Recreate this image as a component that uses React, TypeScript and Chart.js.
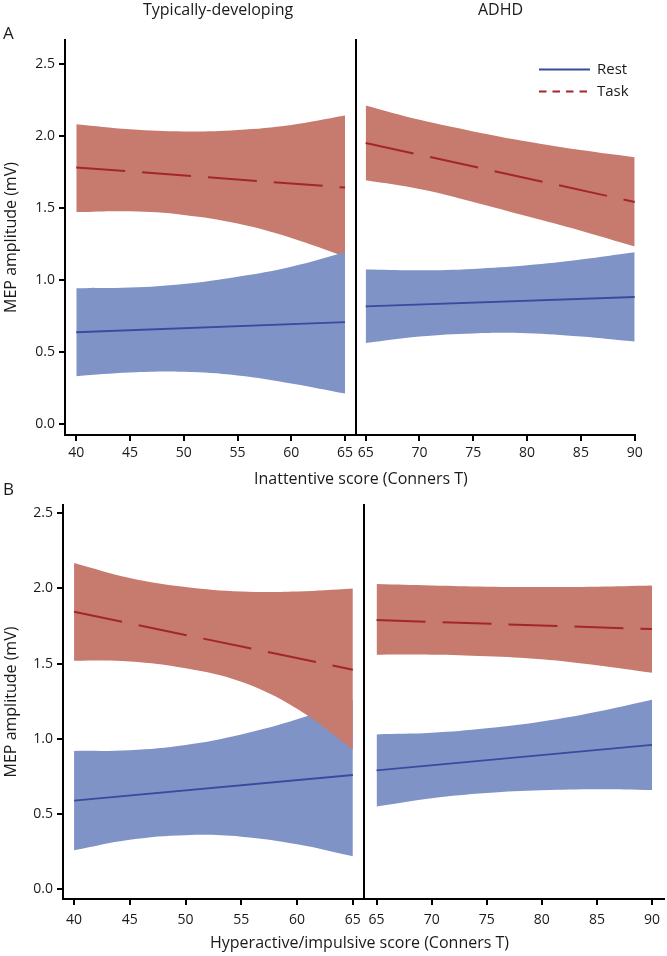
import React, { useEffect, useRef } from "react";
import { Chart, registerables } from "chart.js";
Chart.register(...registerables);

const FONT = "'Open Sans', 'DejaVu Sans', sans-serif";
const TEXT = "#1a1a1a";
const RED_BAND = "rgb(199,122,110)";
const BLUE_BAND = "rgb(127,147,199)";
const RED_LINE = "#a2262b";
const BLUE_LINE = "#3a4a9e";

// Tick values
const yTickValues = [0, 0.5, 1.0, 1.5, 2.0, 2.5];
const xTicksTD = [40, 45, 50, 55, 60, 65];
const xTicksADHD = [65, 70, 75, 80, 85, 90];

// Where the confidence bands were read (Conners T)
const bandX_TD = [40, 45, 50, 55, 60, 65];
const bandX_ADHD = [65, 70, 75, 80, 85, 90];
// Fit-line end points
const fitX_TD = [40, 65];
const fitX_ADHD = [65, 90];

// Panel A – Inattentive, typically-developing
const aTdRestFit = [0.635, 0.705];
const aTdRestUpper = [0.94, 0.945, 0.97, 1.02, 1.09, 1.19];
const aTdRestLower = [0.33, 0.355, 0.36, 0.335, 0.28, 0.21];
const aTdTaskFit = [1.78, 1.64];
const aTdTaskUpper = [2.08, 2.045, 2.03, 2.04, 2.075, 2.14];
const aTdTaskLower = [1.47, 1.475, 1.45, 1.39, 1.29, 1.16];
// Panel A – Inattentive, ADHD
const aAdRestFit = [0.815, 0.88];
const aAdRestUpper = [1.07, 1.065, 1.075, 1.1, 1.14, 1.19];
const aAdRestLower = [0.56, 0.605, 0.627, 0.628, 0.605, 0.57];
const aAdTaskFit = [1.95, 1.54];
const aAdTaskUpper = [2.21, 2.11, 2.03, 1.96, 1.9, 1.85];
const aAdTaskLower = [1.69, 1.63, 1.54, 1.44, 1.34, 1.23];
// Panel B – Hyperactive/impulsive, typically-developing
const bTdRestFit = [0.59, 0.76];
const bTdRestUpper = [0.92, 0.925, 0.96, 1.03, 1.13, 1.26];
const bTdRestLower = [0.26, 0.33, 0.36, 0.35, 0.3, 0.22];
const bTdTaskFit = [1.845, 1.46];
const bTdTaskUpper = [2.17, 2.07, 2.01, 1.98, 1.98, 2.0];
const bTdTaskLower = [1.52, 1.515, 1.47, 1.38, 1.2, 0.93];
// Panel B – Hyperactive/impulsive, ADHD
const bAdRestFit = [0.79, 0.96];
const bAdRestUpper = [1.03, 1.04, 1.07, 1.115, 1.18, 1.26];
const bAdRestLower = [0.55, 0.605, 0.64, 0.658, 0.665, 0.66];
const bAdTaskFit = [1.79, 1.73];
const bAdTaskUpper = [2.03, 2.02, 2.012, 2.01, 2.012, 2.02];
const bAdTaskLower = [1.56, 1.56, 1.55, 1.53, 1.49, 1.44];

const legendLabels = ["Rest", "Task"];
const yTitle = "MEP amplitude (mV)";

type Box = { left: number; top: number; width: number; height: number };
type Area = { l: number; t: number; r: number; b: number };
type Spec = {
  box: Box;
  area: Area;
  xMin: number;
  xMax: number;
  yMin: number;
  yMax: number;
  xTicks: number[];
  tickPad: number;
  showY: boolean;
  bandX: number[];
  fitX: number[];
  restFit: number[];
  restUpper: number[];
  restLower: number[];
  taskFit: number[];
  taskUpper: number[];
  taskLower: number[];
  restOnTop: boolean;
  legend?: boolean;
};

const pts = (xs: number[], ys: number[]) => xs.map((x, i) => ({ x, y: ys[i] }));

function band(xs: number[], upper: number[], lower: number[], color: string) {
  const common = {
    backgroundColor: color,
    borderColor: "rgba(0,0,0,0)",
    borderWidth: 0,
    pointRadius: 0,
    tension: 0.4,
  };
  return [
    { ...common, data: pts(xs, upper), fill: "+1" },
    { ...common, data: pts(xs, lower), fill: false },
  ];
}

function legendPlugin(box: Box) {
  return {
    id: "customLegend",
    afterDraw(chart: any) {
      const ctx = chart.ctx;
      ctx.save();
      const rows = [
        { y: 69.5, color: BLUE_LINE, dash: [] as number[] },
        { y: 91.5, color: RED_LINE, dash: [7.5, 6] },
      ];
      rows.forEach((r, i) => {
        ctx.beginPath();
        ctx.setLineDash(r.dash);
        ctx.strokeStyle = r.color;
        ctx.lineWidth = 2;
        ctx.moveTo(539 - box.left, r.y - box.top);
        ctx.lineTo(590 - box.left, r.y - box.top);
        ctx.stroke();
        ctx.setLineDash([]);
        ctx.fillStyle = TEXT;
        ctx.font = `15px ${FONT}`;
        ctx.textBaseline = "middle";
        ctx.textAlign = "left";
        ctx.fillText(legendLabels[i], 597 - box.left, r.y - box.top);
      });
      ctx.restore();
    },
  };
}

function makeConfig(s: Spec): any {
  const { box, area } = s;
  const padLeft = s.showY ? 0 : area.l - box.left;
  const restBand = band(s.bandX, s.restUpper, s.restLower, BLUE_BAND);
  const taskBand = band(s.bandX, s.taskUpper, s.taskLower, RED_BAND);
  const bands = s.restOnTop ? [...restBand, ...taskBand] : [...taskBand, ...restBand];
  const datasets = [
    {
      data: pts(s.fitX, s.taskFit),
      borderColor: RED_LINE,
      borderWidth: 2,
      borderDash: [49, 17],
      pointRadius: 0,
      fill: false,
    },
    {
      data: pts(s.fitX, s.restFit),
      borderColor: BLUE_LINE,
      borderWidth: 1.8,
      pointRadius: 0,
      fill: false,
    },
    ...bands,
  ];
  const plugins: any[] = [];
  if (s.legend) plugins.push(legendPlugin(box));
  return {
    type: "line",
    data: { datasets },
    plugins,
    options: {
      responsive: false,
      animation: false,
      events: [],
      layout: {
        padding: {
          left: padLeft,
          top: area.t - box.top,
          right: box.left + box.width - area.r,
          bottom: 0,
        },
      },
      plugins: { legend: { display: false }, tooltip: { enabled: false } },
      scales: {
        x: {
          type: "linear",
          position: "bottom",
          min: s.xMin,
          max: s.xMax,
          afterFit: (sc: any) => {
            sc.height = box.top + box.height - area.b;
          },
          afterBuildTicks: (sc: any) => {
            sc.ticks = s.xTicks.map((v) => ({ value: v }));
          },
          grid: {
            display: true,
            drawOnChartArea: false,
            drawTicks: true,
            tickLength: 6,
            color: "#000",
            lineWidth: 2,
          },
          border: { display: true, color: "#000", width: 2 },
          ticks: {
            autoSkip: false,
            maxRotation: 0,
            minRotation: 0,
            color: TEXT,
            padding: s.tickPad,
            font: { family: FONT, size: 14 },
            callback: (v: any) => String(v),
          },
        },
        y: {
          type: "linear",
          position: "left",
          min: s.yMin,
          max: s.yMax,
          afterFit: (sc: any) => {
            sc.width = s.showY ? area.l - box.left : 0;
          },
          afterBuildTicks: (sc: any) => {
            sc.ticks = yTickValues.map((v) => ({ value: v }));
          },
          grid: {
            display: s.showY,
            drawOnChartArea: false,
            drawTicks: true,
            tickLength: 6,
            color: "#000",
            lineWidth: 2,
          },
          border: { display: true, color: "#000", width: 2 },
          ticks: {
            display: s.showY,
            color: TEXT,
            padding: 4,
            font: { family: FONT, size: 14 },
            callback: (v: any) => Number(v).toFixed(1),
          },
          title: {
            display: s.showY,
            text: yTitle,
            color: TEXT,
            font: { family: FONT, size: 16 },
            padding: { top: 2, bottom: 0 },
          },
        },
      },
    },
  };
}

const aY = { yMin: -0.0785, yMax: 2.6646 };
const bY = { yMin: -0.0645, yMax: 2.555 };

const specs: Spec[] = [
  {
    box: { left: 0, top: 0, width: 360, height: 470 },
    area: { l: 65, t: 40, r: 356, b: 435 },
    xMin: 38.95,
    xMax: 66.02,
    ...aY,
    xTicks: xTicksTD,
    tickPad: 4,
    showY: true,
    bandX: bandX_TD,
    fitX: fitX_TD,
    restFit: aTdRestFit,
    restUpper: aTdRestUpper,
    restLower: aTdRestLower,
    taskFit: aTdTaskFit,
    taskUpper: aTdTaskUpper,
    taskLower: aTdTaskLower,
    restOnTop: true,
  },
  {
    box: { left: 350, top: 0, width: 317, height: 470 },
    area: { l: 356, t: 40, r: 635, b: 435 },
    xMin: 64.1,
    xMax: 90.03,
    ...aY,
    xTicks: xTicksADHD,
    tickPad: 4,
    showY: false,
    bandX: bandX_ADHD,
    fitX: fitX_ADHD,
    restFit: aAdRestFit,
    restUpper: aAdRestUpper,
    restLower: aAdRestLower,
    taskFit: aAdTaskFit,
    taskUpper: aAdTaskUpper,
    taskLower: aAdTaskLower,
    restOnTop: true,
    legend: true,
  },
  {
    box: { left: 0, top: 470, width: 368, height: 486 },
    area: { l: 63, t: 505, r: 364, b: 899 },
    xMin: 39.01,
    xMax: 65.99,
    ...bY,
    xTicks: xTicksTD,
    tickPad: 7,
    showY: true,
    bandX: bandX_TD,
    fitX: fitX_TD,
    restFit: bTdRestFit,
    restUpper: bTdRestUpper,
    restLower: bTdRestLower,
    taskFit: bTdTaskFit,
    taskUpper: bTdTaskUpper,
    taskLower: bTdTaskLower,
    restOnTop: false,
  },
  {
    box: { left: 358, top: 470, width: 309, height: 486 },
    area: { l: 364, t: 505, r: 667, b: 899 },
    xMin: 63.86,
    xMax: 91.05,
    ...bY,
    xTicks: xTicksADHD,
    tickPad: 7,
    showY: false,
    bandX: bandX_ADHD,
    fitX: fitX_ADHD,
    restFit: bAdRestFit,
    restUpper: bAdRestUpper,
    restLower: bAdRestLower,
    taskFit: bAdTaskFit,
    taskUpper: bAdTaskUpper,
    taskLower: bAdTaskLower,
    restOnTop: false,
  },
];

function ChartBox({ spec }: { spec: Spec }) {
  const ref = useRef<HTMLCanvasElement>(null);
  useEffect(() => {
    const chart = new Chart(ref.current as HTMLCanvasElement, makeConfig(spec));
    return () => chart.destroy();
  }, [spec]);
  const { box } = spec;
  return (
    <canvas
      ref={ref}
      width={box.width}
      height={box.height}
      style={{ position: "absolute", left: box.left, top: box.top, width: box.width, height: box.height }}
    />
  );
}

function Label({ text, left, top, size }: { text: string; left: number; top: number; size: number }) {
  return (
    <div
      style={{
        position: "absolute",
        left,
        top,
        fontFamily: FONT,
        fontSize: size,
        lineHeight: 1,
        whiteSpace: "nowrap",
        color: TEXT,
      }}
    >
      {text}
    </div>
  );
}

export default function App() {
  return (
    <div style={{ position: "absolute", left: 0, top: 0, width: 667, height: 956, background: "#fff", overflow: "hidden" }}>
      {specs.map((s, i) => (
        <ChartBox key={i} spec={s} />
      ))}
      <Label text="A" left={3} top={24} size={17} />
      <Label text="B" left={3} top={480} size={17} />
      <Label text="Typically-developing" left={143} top={1} size={16} />
      <Label text="ADHD" left={478} top={1} size={16} />
      <Label text="Inattentive score (Conners T)" left={254} top={470} size={16} />
      <Label text="Hyperactive/impulsive score (Conners T)" left={210} top={934} size={16} />
    </div>
  );
}
